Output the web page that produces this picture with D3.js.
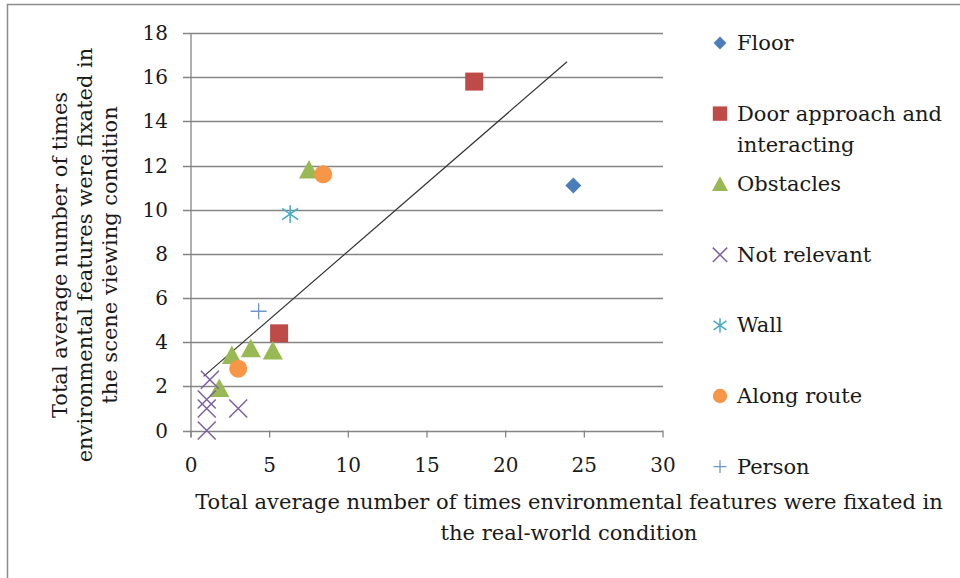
<!DOCTYPE html>
<html>
<head>
<meta charset="utf-8">
<script src="https://cdn.jsdelivr.net/npm/d3@7"></script>
<style>
  body { margin: 0; background: #fff; }
  text { font-family: "DejaVu Serif", serif; fill: #1a1a1a; }
</style>
</head>
<body>
<div id="chart"></div>
<script>
// Series, in legend order
var seriesNames = ["Floor", "Door approach and interacting", "Obstacles", "Not relevant", "Wall", "Along route", "Person"];
var seriesColors = ["#4a7ebb", "#be4b48", "#98b954", "#7d60a0", "#46aac5", "#f79646", "#6f94cc"];
var seriesShapes = ["diamond", "square", "triangle", "times", "asterisk", "circle", "plus"];

// Points: [x (real-world), y (scene viewing)]
var floorPts = [[24.3, 11.1]];
var doorPts = [[18.0, 15.8], [5.6, 4.4]];
var obstaclePts = [[7.5, 11.8], [2.6, 3.4], [3.8, 3.7], [5.2, 3.6], [1.8, 1.9]];
var notRelevantPts = [[1.2, 2.3], [1.0, 1.4], [1.0, 1.0], [3.0, 1.0], [1.0, 0.0]];
var wallPts = [[6.3, 9.8]];
var alongRoutePts = [[8.4, 11.6], [3.0, 2.8]];
var personPts = [[4.3, 5.4]];
var allSeries = [floorPts, doorPts, obstaclePts, notRelevantPts, wallPts, alongRoutePts, personPts];

// Trend line end points
var trendX = [0.8, 23.9];
var trendY = [2.45, 16.7];

var xTicks = [0, 5, 10, 15, 20, 25, 30];
var yTicks = [0, 2, 4, 6, 8, 10, 12, 14, 16, 18];

var width = 960, height = 578;
var svg = d3.select("#chart").append("svg")
    .attr("width", width)
    .attr("height", height);

// chart border
svg.append("rect")
    .attr("x", 7.5).attr("y", 4.5)
    .attr("width", 1000).attr("height", 700)
    .attr("fill", "none")
    .attr("stroke", "#8c8c8c")
    .attr("stroke-width", 1.5);

var x = d3.scaleLinear().domain([0, 30]).range([191, 663]);
var y = d3.scaleLinear().domain([0, 18]).range([430.5, 33]);

// Gridlines
svg.append("g")
    .selectAll("line")
    .data(yTicks)
    .join("line")
    .attr("x1", 183).attr("x2", x(30))
    .attr("y1", function (d) { return Math.round(y(d)) + 0.5; })
    .attr("y2", function (d) { return Math.round(y(d)) + 0.5; })
    .attr("stroke", "#858585")
    .attr("stroke-width", 1.3);

// y axis line
svg.append("line")
    .attr("x1", x(0)).attr("x2", x(0))
    .attr("y1", y(18)).attr("y2", y(0) + 7)
    .attr("stroke", "#858585").attr("stroke-width", 1.3);

// x axis ticks
svg.append("g")
    .selectAll("line")
    .data(xTicks)
    .join("line")
    .attr("x1", function (d) { return x(d); })
    .attr("x2", function (d) { return x(d); })
    .attr("y1", y(0)).attr("y2", y(0) + 7)
    .attr("stroke", "#858585").attr("stroke-width", 1.3);

// Tick labels
svg.append("g")
    .selectAll("text")
    .data(yTicks)
    .join("text")
    .attr("x", 168)
    .attr("y", function (d) { return y(d) + 7; })
    .attr("text-anchor", "end")
    .style("font-size", "20px")
    .text(function (d) { return d; });

svg.append("g")
    .selectAll("text")
    .data(xTicks)
    .join("text")
    .attr("x", function (d) { return x(d); })
    .attr("y", 472)
    .attr("text-anchor", "middle")
    .style("font-size", "20px")
    .text(function (d) { return d; });

// Trend line
svg.append("line")
    .attr("x1", x(trendX[0])).attr("y1", y(trendY[0]))
    .attr("x2", x(trendX[1])).attr("y2", y(trendY[1]))
    .attr("stroke", "#333")
    .attr("stroke-width", 1.2);

// Marker drawing
function drawMarker(g, shape, color, k) {
    var s;
    if (shape == "diamond") {
        s = 8 * k;
        g.append("path").attr("d", "M0," + -s + "L" + s + ",0L0," + s + "L" + -s + ",0Z").attr("fill", color);
    } else if (shape == "square") {
        s = 9 * k;
        g.append("rect").attr("x", -s).attr("y", -s).attr("width", 2 * s).attr("height", 2 * s).attr("fill", color);
    } else if (shape == "triangle") {
        s = 10 * k;
        g.append("path").attr("d", "M0," + (-s) + "L" + s + "," + (s * 0.85) + "L" + (-s) + "," + (s * 0.85) + "Z").attr("fill", color);
    } else if (shape == "circle") {
        g.append("circle").attr("r", 9 * k).attr("fill", color);
    } else if (shape == "times") {
        s = 9 * k;
        g.append("path").attr("d", "M" + -s + "," + -s + "L" + s + "," + s + "M" + s + "," + -s + "L" + -s + "," + s)
            .attr("stroke", color).attr("stroke-width", 1.5).attr("fill", "none");
    } else if (shape == "asterisk") {
        s = 8 * k;
        g.append("path").attr("d", "M0," + (-s * 1.1) + "L0," + (s * 1.1) + "M" + -s + "," + -s * 0.7 + "L" + s + "," + s * 0.7 + "M" + s + "," + -s * 0.7 + "L" + -s + "," + s * 0.7)
            .attr("stroke", color).attr("stroke-width", 1.5).attr("fill", "none");
    } else if (shape == "plus") {
        s = 8 * k;
        g.append("path").attr("d", "M0," + -s + "L0," + s + "M" + -s + ",0L" + s + ",0")
            .attr("stroke", color).attr("stroke-width", 1.3).attr("fill", "none");
    }
}

// Points
allSeries.forEach(function (pts, i) {
    svg.append("g")
        .selectAll("g")
        .data(pts)
        .join("g")
        .attr("transform", function (d) { return "translate(" + x(d[0]) + "," + y(d[1]) + ")"; })
        .each(function () { drawMarker(d3.select(this), seriesShapes[i], seriesColors[i], 1); });
});

// Legend
var legend = svg.append("g");
seriesNames.forEach(function (name, i) {
    var ly = 43 + i * 70.6;
    var item = legend.append("g").attr("transform", "translate(720," + ly + ")");
    drawMarker(item, seriesShapes[i], seriesColors[i], 0.8);
    var lines = name == "Door approach and interacting" ? ["Door approach and", "interacting"] : [name];
    lines.forEach(function (l, j) {
        item.append("text")
            .attr("x", 17)
            .attr("y", 7 + j * 31)
            .style("font-size", "21px")
            .text(l);
    });
});

// Axis titles
var xTitle = ["Total average number of times environmental features were fixated in", "the real-world condition"];
svg.append("g")
    .selectAll("text")
    .data(xTitle)
    .join("text")
    .attr("x", 569)
    .attr("y", function (d, i) { return 509 + i * 31; })
    .attr("text-anchor", "middle")
    .style("font-size", "21px")
    .text(function (d) { return d; });

var yTitle = ["Total average number of times", "environmental features were fixated in", "the scene viewing condition"];
svg.append("g")
    .attr("transform", "translate(0,255) rotate(-90)")
    .selectAll("text")
    .data(yTitle)
    .join("text")
    .attr("x", 0)
    .attr("y", function (d, i) { return 67 + i * 25; })
    .attr("text-anchor", "middle")
    .style("font-size", "21px")
    .text(function (d) { return d; });
</script>
</body>
</html>
